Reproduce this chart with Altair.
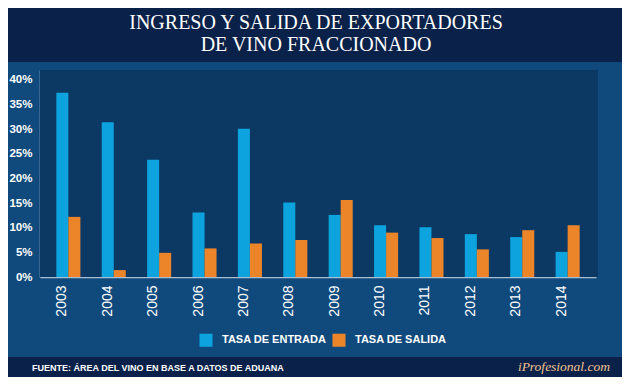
import altair as alt
import pandas as pd

years = ["2003", "2004", "2005", "2006", "2007", "2008",
         "2009", "2010", "2011", "2012", "2013", "2014"]
entrada = [37.4, 31.4, 23.8, 13.1, 30.1, 15.1, 12.6, 10.5, 10.1, 8.7, 8.1, 5.1]
salida = [12.2, 1.4, 4.9, 5.8, 6.8, 7.5, 15.6, 9.0, 7.9, 5.6, 9.5, 10.5]
series = ["TASA DE ENTRADA", "TASA DE SALIDA"]
y_ticks = [0, 5, 10, 15, 20, 25, 30, 35, 40]
title_lines = ["INGRESO Y SALIDA DE EXPORTADORES", "DE VINO FRACCIONADO"]
source_text = "FUENTE: ÁREA DEL VINO EN BASE A DATOS DE ADUANA"
brand_text = "iProfesional.com"

HEADER = "#0a2149"
BODY = "#104a7c"
PANEL = "#0c3963"
FOOTER = "#0a2149"
BLUE = "#0ca3df"
ORANGE = "#ec852a"
SANS = "Liberation Sans, Arial"

W, H = 556, 207

df = pd.DataFrame({
    "year": years * 2,
    "serie": [series[0]] * len(years) + [series[1]] * len(years),
    "value": entrada + salida,
})
one = pd.DataFrame({"k": [0]})

bars = alt.Chart(df).mark_bar().encode(
    x=alt.X("year:N", sort=years,
            scale=alt.Scale(paddingInner=0.47, paddingOuter=0.36),
            axis=alt.Axis(title=None, labelAngle=270, labelColor="white",
                          labelFont=SANS, labelFontSize=14,
                          labelPadding=8, labelOffset=-6, ticks=False,
                          domainColor="#a9bdd3", domainWidth=1.5)),
    xOffset=alt.XOffset("serie:N", sort=series),
    y=alt.Y("value:Q", scale=alt.Scale(domain=[0, 42], nice=False),
            axis=alt.Axis(title=None, values=y_ticks, labelExpr="datum.value + '%'",
                          labelColor="white", labelFont=SANS, labelFontSize=11.5,
                          labelFontWeight="bold", labelPadding=8, ticks=False,
                          grid=False, domainColor="#a9bdd3", domainWidth=1.5)),
    color=alt.Color("serie:N", sort=series,
                    scale=alt.Scale(domain=series, range=[BLUE, ORANGE]),
                    legend=alt.Legend(title=None, orient="none", direction="horizontal",
                                      legendX=159, legendY=263,
                                      symbolType="square", symbolSize=170,
                                      symbolStrokeWidth=0, symbolOpacity=1,
                                      labelColor="white", labelFont=SANS,
                                      labelFontSize=11, labelFontWeight="bold",
                                      labelOffset=9, columnPadding=5)),
)

header = alt.Chart(one).mark_rect(color=HEADER).encode(
    x=alt.value(-32), x2=alt.value(582), y=alt.value(-62), y2=alt.value(-8))
footer = alt.Chart(one).mark_rect(color=FOOTER).encode(
    x=alt.value(-32), x2=alt.value(582), y=alt.value(287), y2=alt.value(307))
panel = alt.Chart(one).mark_rect(color=PANEL).encode(
    x=alt.value(0), x2=alt.value(558), y=alt.value(0), y2=alt.value(H))

t1 = alt.Chart(one).mark_text(font="Liberation Serif", fontSize=20, color="white",
                              align="center", baseline="alphabetic").encode(
    x=alt.value(276), y=alt.value(-41), text=alt.value(title_lines[0]))
t2 = alt.Chart(one).mark_text(font="Liberation Serif", fontSize=20, color="white",
                              align="center", baseline="alphabetic").encode(
    x=alt.value(276), y=alt.value(-19), text=alt.value(title_lines[1]))
src = alt.Chart(one).mark_text(font=SANS, fontSize=9, fontWeight="bold", color="white",
                               align="left", baseline="middle").encode(
    x=alt.value(-8), y=alt.value(298), text=alt.value(source_text))
brand = alt.Chart(one).mark_text(font="Liberation Serif", fontSize=13.5, fontStyle="italic",
                                 color="#f2c38f", align="right", baseline="middle").encode(
    x=alt.value(570), y=alt.value(297), text=alt.value(brand_text))

chart = alt.layer(header, footer, panel, t1, t2, src, brand, bars).properties(
    width=W, height=H,
    autosize=alt.AutoSizeParams(type="none"),
    padding={"left": 32, "top": 62, "right": 26, "bottom": 100},
    background=BODY,
).configure_view(strokeWidth=0).resolve_scale(color="independent")

chart.save("out.html", embed_options={"renderer": "svg", "actions": False})
